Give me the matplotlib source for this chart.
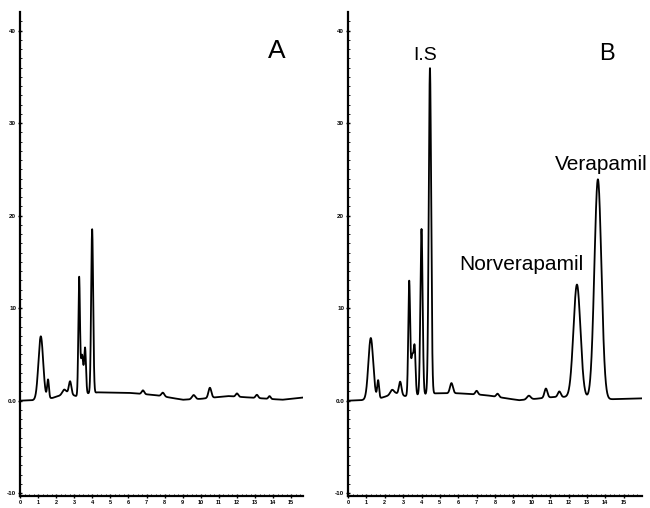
import numpy as np
import matplotlib
matplotlib.use("Agg")
import matplotlib.pyplot as plt

plt.rcParams['font.family'] = ['Liberation Sans', 'DejaVu Sans']

# ---- Panel A (blank) : peak table ----
a_rt = [1.15, 1.55, 2.44, 2.77, 3.27, 3.43, 3.60, 3.99, 6.8, 7.9, 9.6, 10.5, 12.0, 13.1, 13.8]
a_h = [6.8, 2.0, 0.5, 1.4, 12.5, 4.3, 4.8, 17.7, 0.4, 0.4, 0.45, 1.1, 0.35, 0.35, 0.3]
a_w = [0.13, 0.05, 0.10, 0.07, 0.045, 0.07, 0.05, 0.055, 0.07, 0.08, 0.09, 0.08, 0.07, 0.07, 0.06]
a_base_t = [0.0, 0.7, 1.8, 2.6, 3.1, 3.8, 4.3, 6.0, 7.5, 9.0, 10.0, 11.5, 13.0, 14.5, 15.7]
a_base_v = [0.0, 0.05, 0.3, 0.8, 0.5, 0.8, 0.9, 0.85, 0.6, 0.1, 0.2, 0.5, 0.3, 0.1, 0.35]

# ---- Panel B (sample) ----
b_rt = [1.24, 1.64, 2.40, 2.84, 3.33, 3.50, 3.63, 4.00, 4.46, 5.63, 7.0, 8.14, 9.84, 10.77, 11.5, 12.46, 13.6]
b_h = [6.6, 1.9, 0.5, 1.4, 12.2, 4.3, 4.6, 17.9, 35.2, 1.1, 0.4, 0.35, 0.4, 1.0, 0.6, 12.2, 23.7]
b_w = [0.13, 0.05, 0.10, 0.07, 0.05, 0.07, 0.05, 0.06, 0.065, 0.08, 0.07, 0.07, 0.10, 0.08, 0.08, 0.19, 0.19]
b_base_t = [0.0, 0.7, 1.8, 2.6, 3.1, 4.8, 6.0, 7.5, 8.8, 9.3, 10.2, 11.2, 12.0, 14.2, 15.9]
b_base_v = [0.0, 0.05, 0.3, 0.8, 0.5, 0.8, 0.8, 0.6, 0.2, 0.05, 0.2, 0.4, 0.4, 0.15, 0.25]

y_ticks = [-10, 0, 10, 20, 30, 40]
y_ticklabels = ['-10', '0.0', '10', '20', '30', '40']
x_ticks = list(range(16))


def trace(t, rt, h, w, bt, bv):
    y = np.interp(t, bt, bv)
    for r, hh, ww in zip(rt, h, w):
        y = y + hh * np.exp(-0.5 * ((t - r) / ww) ** 2)
    return y


fig = plt.figure(figsize=(6.5, 5.08), dpi=100)
ax_a = fig.add_axes([20 / 650, 12 / 508, 283 / 650, 484 / 508])
ax_b = fig.add_axes([348 / 650, 12 / 508, 294 / 650, 484 / 508])

panels = [
    (ax_a, a_rt, a_h, a_w, a_base_t, a_base_v, 15.65),
    (ax_b, b_rt, b_h, b_w, b_base_t, b_base_v, 16.0),
]
for ax, rt, h, w, bt, bv, xmax in panels:
    t = np.linspace(0, xmax, 5000)
    ax.plot(t, trace(t, rt, h, w, bt, bv), color='black', lw=1.3)
    ax.set_xlim(0, xmax)
    ax.set_ylim(-10.3, 42)
    for s in ['top', 'right']:
        ax.spines[s].set_visible(False)
    for s in ['left', 'bottom']:
        ax.spines[s].set_linewidth(1.6)
    ax.set_yticks(y_ticks)
    ax.set_yticklabels(y_ticklabels, fontsize=4.5, fontweight='bold')
    ax.set_xticks(x_ticks)
    ax.set_xticklabels([str(v) for v in x_ticks], fontsize=4, fontweight='bold')
    ax.set_xticks(np.arange(0, xmax, 0.25), minor=True)
    ax.set_yticks(np.arange(-10, 42, 1), minor=True)
    ax.tick_params(axis='both', which='major', length=2.5, width=1, pad=1.5, direction='inout')
    ax.tick_params(axis='both', which='minor', length=1.2, width=0.6, direction='in')

fig.text(277 / 650, 1 - 51 / 508, 'A', fontsize=19, ha='center', va='center')
fig.text(607 / 650, 1 - 54 / 508, 'B', fontsize=17, ha='center', va='center')
fig.text(425 / 650, 1 - 55 / 508, 'I.S', fontsize=14, ha='center', va='center')
fig.text(601 / 650, 1 - 165 / 508, 'Verapamil', fontsize=15, ha='center', va='center')
fig.text(521 / 650, 1 - 265 / 508, 'Norverapamil', fontsize=15, ha='center', va='center')

fig.savefig('out.png', dpi=100)
